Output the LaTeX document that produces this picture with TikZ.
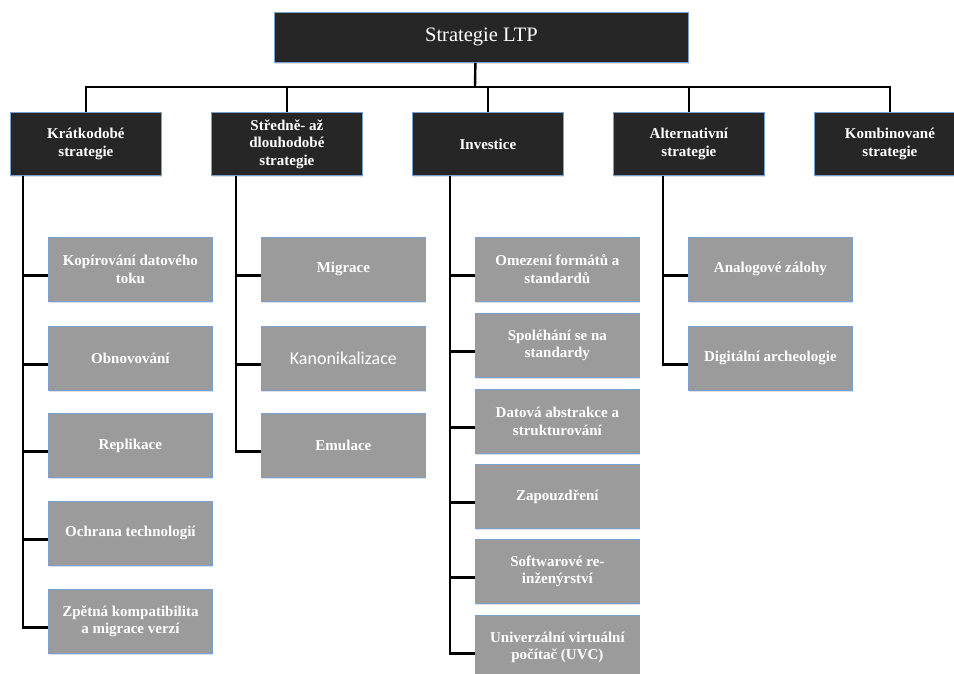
\documentclass[tikz,border=0pt]{standalone}
\usepackage{fontspec}
\setmainfont{Liberation Serif}
\newfontfamily\calibrifont{Carlito}
\usepackage{tikz}
\usetikzlibrary{positioning,shadows}
\usepackage{xcolor}
\definecolor{boxdark}{HTML}{262626}
\definecolor{boxedge}{HTML}{7A9FD0}
\definecolor{leafgray}{HTML}{9B9B9B}

\tikzset{
  basebox/.style={draw=boxedge,line width=0.8pt,text=white,align=center,anchor=north west,inner sep=2pt,
    drop shadow={shadow xshift=1pt,shadow yshift=-1.5pt,opacity=0.25}},
  rootbox/.style={basebox,fill=boxdark,minimum width=414pt,minimum height=50pt,font=\fontsize{20.5}{24}\selectfont},
  catbox/.style={basebox,fill=boxdark,minimum width=151pt,minimum height=63pt,font=\bfseries\fontsize{15}{17.5}\selectfont},
  leafbox/.style={basebox,fill=leafgray,minimum width=164pt,minimum height=64pt,font=\bfseries\fontsize{15}{17.7}\selectfont},
  link/.style={line width=2.4pt,black}
}

\begin{document}
\begin{tikzpicture}[x=1pt,y=-1pt]
\useasboundingbox (0,0) rectangle (954,674);
% top and categories
\node[rootbox] (root) at (274,12) {Strategie LTP};
\node[catbox] (kratko) at (10,112) {Krátkodobé\\strategie};
\node[catbox] (stredne) at (211,112) {Středně- až\\dlouhodobé\\strategie};
\node[catbox] (invest) at (412,112) {Investice};
\node[catbox] (alter) at (613,112) {Alternativní\\strategie};
\node[catbox] (kombi) at (814,112) {Kombinované\\strategie};
% leaves
\node[leafbox] (k1) at (48,237) {Kopírování datového\\toku};
\node[leafbox] (k2) at (48,326) {Obnovování};
\node[leafbox] (k3) at (48,413) {Replikace};
\node[leafbox] (k4) at (48,501) {Ochrana technologií};
\node[leafbox] (k5) at (48,589) {Zpětná kompatibilita\\a migrace verzí};
\node[leafbox] (s1) at (261,237) {Migrace};
\node[leafbox,font=\calibrifont\fontsize{18}{21}\selectfont] (s2) at (261,326) {Kanonikalizace};
\node[leafbox] (s3) at (261,413) {Emulace};
\node[leafbox] (i1) at (475,237) {Omezení formátů a\\standardů};
\node[leafbox] (i2) at (475,313) {Spoléhání se na\\standardy};
\node[leafbox] (i3) at (475,389) {Datová abstrakce a\\strukturování};
\node[leafbox] (i4) at (475,464) {Zapouzdření};
\node[leafbox] (i5) at (475,539) {Softwarové re-\\inženýrství};
\node[leafbox] (i6) at (475,615) {Univerzální virtuální\\počítač (UVC)};
\node[leafbox] (a1) at (688,237) {Analogové zálohy};
\node[leafbox] (a2) at (688,326) {Digitální archeologie};
% connectors
\coordinate (bus) at (475,87);
\draw[link] ([xshift=-6pt]root.south) -- (bus);
\foreach \c in {kratko,stredne,invest,alter,kombi}
  \draw[link] (bus) -| (\c.north);
\foreach \l in {k1,k2,k3,k4,k5}
  \draw[link] ([xshift=13pt]kratko.south west) |- ([yshift=-6pt]\l.west);
\foreach \l in {s1,s2,s3}
  \draw[link] ([xshift=25pt]stredne.south west) |- ([yshift=-6pt]\l.west);
\foreach \l in {i1,i2,i3,i4,i5,i6}
  \draw[link] ([xshift=38pt]invest.south west) |- ([yshift=-6pt]\l.west);
\foreach \l in {a1,a2}
  \draw[link] ([xshift=50pt]alter.south west) |- ([yshift=-6pt]\l.west);
\end{tikzpicture}
\end{document}
